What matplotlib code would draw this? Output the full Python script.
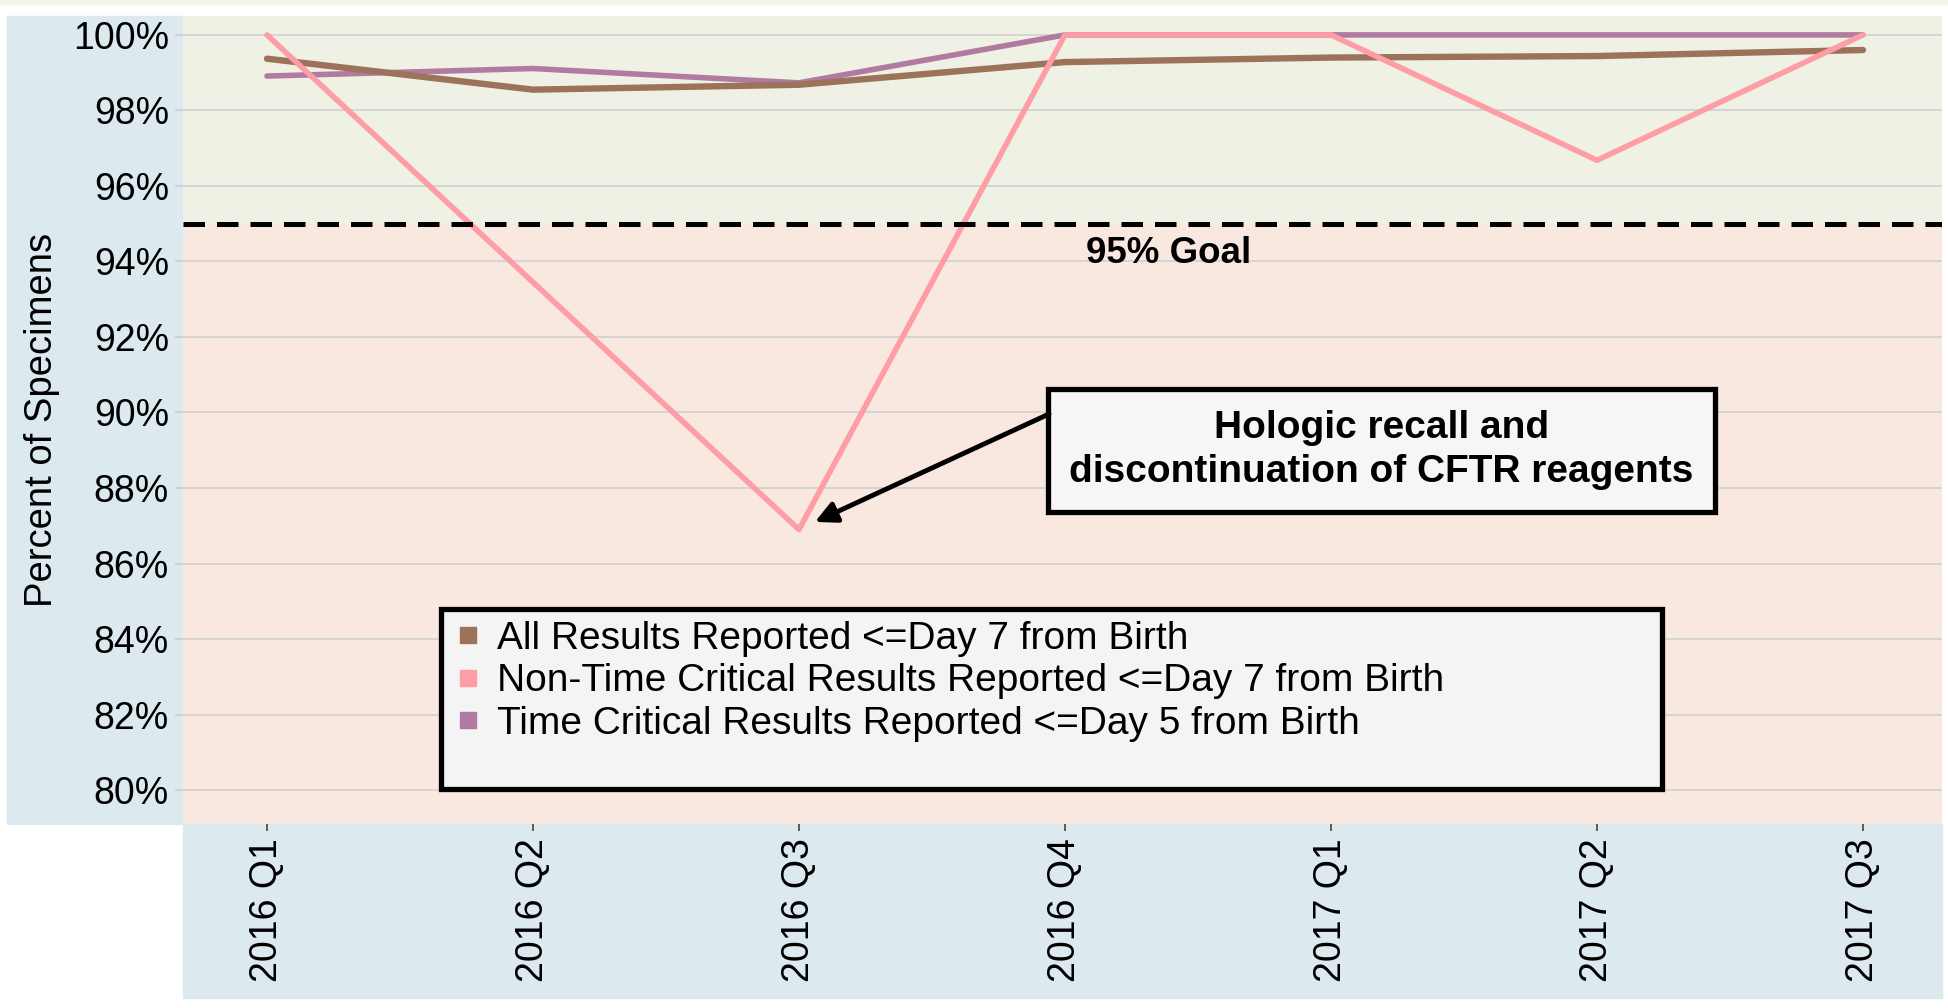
import matplotlib
matplotlib.use('Agg')
import matplotlib.pyplot as plt
from matplotlib.patches import Rectangle
from matplotlib.lines import Line2D

# data
quarters = ['2016 Q1', '2016 Q2', '2016 Q3', '2016 Q4', '2017 Q1', '2017 Q2', '2017 Q3']
all_results = [99.37, 98.55, 98.68, 99.28, 99.40, 99.44, 99.60]
non_time_critical = [100.0, 93.45, 86.9, 100.0, 100.0, 96.68, 100.0]
time_critical = [98.91, 99.11, 98.73, 100.0, 100.0, 100.0, 100.0]
series_labels = ['All Results Reported <=Day 7 from Birth',
                 'Non-Time Critical Results Reported <=Day 7 from Birth',
                 'Time Critical Results Reported <=Day 5 from Birth']
colors = ['#9c735a', '#ff9da6', '#b07aa1']
goal = 95
yticks = list(range(80, 101, 2))

plt.rcParams['font.family'] = ['Liberation Sans', 'DejaVu Sans']

fig = plt.figure(figsize=(19.48, 10.08), dpi=100)
ax = fig.add_axes([0.0939, 0.1825, 0.9030, 0.8016])
ax.set_facecolor('none')

# panels behind the tick labels
fig.patches.append(Rectangle((0.0036, 0.1825), 0.0903, 0.8016, transform=fig.transFigure,
                             color='#dce9ef', zorder=-1))
fig.patches.append(Rectangle((0.0939, 0.0099), 0.9030, 0.1726, transform=fig.transFigure,
                             color='#dce9ef', zorder=-1))
fig.patches.append(Rectangle((0, 0.996), 1, 0.004, transform=fig.transFigure,
                             color='#f6f4ec', zorder=-1))

x = list(range(len(quarters)))
ymin, ymax = 79.1, 100.5
ax.set_xlim(-0.316, 6.297)
ax.set_ylim(ymin, ymax)

# goal zones
ax.axhspan(goal, ymax, color='#eef1e3', zorder=0)
ax.axhspan(ymin, goal, color='#f9e8e0', zorder=0)
ax.set_axisbelow(True)
ax.yaxis.grid(True, color='#d0d0d0', lw=1.2)

ax.plot(x, time_critical, color=colors[2], lw=4.0, zorder=3, solid_capstyle='round')
ax.plot(x, all_results, color=colors[0], lw=4.6, zorder=3.5, solid_capstyle='round')
ax.plot(x, non_time_critical, color=colors[1], lw=4.0, zorder=4, solid_capstyle='round')

ax.axhline(goal, color='black', lw=3.6, dashes=(4.3, 2.4), zorder=5)
ax.text(3.39, 94.2, '95% Goal', ha='center', va='center', fontsize=26.5, fontweight='bold')

ax.text(4.19, 89.0, 'Hologic recall and\ndiscontinuation of CFTR reagents', ha='center',
        va='center', fontsize=28, fontweight='bold', linespacing=1.3, zorder=6,
        bbox=dict(boxstyle='square,pad=0.55', fc='#f8f6f4', ec='black', lw=3.8))
ax.annotate('', xy=(2.06, non_time_critical[2] + 0.2), xytext=(2.94, 89.96),
            arrowprops=dict(arrowstyle='-|>', color='black', lw=3.5, mutation_scale=32,
                            shrinkA=0, shrinkB=0), zorder=6)

# legend with a tall box
ax.add_patch(Rectangle((0.1467, 0.0433), 0.6941, 0.2227, transform=ax.transAxes,
                       fc='#f4f4f4', ec='black', lw=3.8, zorder=6))
handles = [Line2D([], [], ls='none', marker='s', ms=11, color=c) for c in colors]
leg = ax.legend(handles, series_labels, loc='upper left', bbox_to_anchor=(0.1467, 0.266),
                frameon=False, fontsize=28, handlelength=0.8, handletextpad=0.35,
                labelspacing=0.17, borderpad=0.3, borderaxespad=0)
leg.set_zorder(7)

ax.set_xticks(x)
ax.set_xticklabels(quarters, rotation=90)
ax.set_yticks(yticks)
ax.set_yticklabels(['{}%'.format(t) for t in yticks])
ax.tick_params(axis='y', length=6, color='#cccccc', width=1.2, pad=4, labelsize=27)
ax.tick_params(axis='x', length=5, color='#444444', width=1.2, pad=5, labelsize=27)
ax.set_ylabel('Percent of Specimens', fontsize=27.5)
ax.yaxis.set_label_coords(-0.070, 0.5)
for s in ax.spines.values():
    s.set_visible(False)

fig.savefig('out.png', dpi=100)
